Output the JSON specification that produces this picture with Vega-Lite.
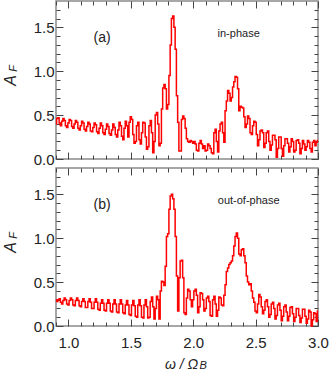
{
  "$schema": "https://vega.github.io/schema/vega-lite/v6.json",
  "padding": {"left": 1, "top": -1, "right": 0, "bottom": 0},
  "spacing": -3,
  "datasets": {
    "a": [
      {"x":0.90,"y":0.40},{"x":0.91,"y":0.46},{"x":0.92,"y":0.47},{"x":0.93,"y":0.41},{"x":0.94,"y":0.38},
      {"x":0.95,"y":0.43},{"x":0.96,"y":0.46},{"x":0.97,"y":0.44},{"x":0.98,"y":0.38},{"x":0.99,"y":0.36},
      {"x":1.00,"y":0.41},{"x":1.01,"y":0.45},{"x":1.02,"y":0.44},{"x":1.03,"y":0.37},{"x":1.04,"y":0.35},
      {"x":1.05,"y":0.40},{"x":1.06,"y":0.44},{"x":1.07,"y":0.42},{"x":1.08,"y":0.35},{"x":1.09,"y":0.33},
      {"x":1.10,"y":0.38},{"x":1.11,"y":0.43},{"x":1.12,"y":0.41},{"x":1.13,"y":0.34},{"x":1.14,"y":0.32},
      {"x":1.15,"y":0.37},{"x":1.16,"y":0.42},{"x":1.17,"y":0.40},{"x":1.18,"y":0.32},{"x":1.19,"y":0.31},
      {"x":1.20,"y":0.36},{"x":1.21,"y":0.41},{"x":1.22,"y":0.39},{"x":1.23,"y":0.31},{"x":1.24,"y":0.29},
      {"x":1.25,"y":0.35},{"x":1.26,"y":0.41},{"x":1.27,"y":0.38},{"x":1.28,"y":0.30},{"x":1.29,"y":0.28},
      {"x":1.30,"y":0.34},{"x":1.31,"y":0.40},{"x":1.32,"y":0.37},{"x":1.33,"y":0.29},{"x":1.34,"y":0.27},
      {"x":1.35,"y":0.33},{"x":1.36,"y":0.40},{"x":1.37,"y":0.36},{"x":1.38,"y":0.28},{"x":1.39,"y":0.25},
      {"x":1.40,"y":0.33},{"x":1.41,"y":0.42},{"x":1.42,"y":0.38},{"x":1.43,"y":0.26},{"x":1.44,"y":0.22},
      {"x":1.45,"y":0.35},{"x":1.46,"y":0.43},{"x":1.47,"y":0.38},{"x":1.48,"y":0.25},{"x":1.49,"y":0.42},
      {"x":1.50,"y":0.48},{"x":1.51,"y":0.45},{"x":1.52,"y":0.28},{"x":1.53,"y":0.18},{"x":1.54,"y":0.20},
      {"x":1.55,"y":0.38},{"x":1.56,"y":0.42},{"x":1.57,"y":0.22},{"x":1.58,"y":0.17},{"x":1.59,"y":0.30},
      {"x":1.60,"y":0.42},{"x":1.61,"y":0.41},{"x":1.62,"y":0.25},{"x":1.63,"y":0.11},{"x":1.64,"y":0.14},
      {"x":1.65,"y":0.38},{"x":1.66,"y":0.44},{"x":1.67,"y":0.30},{"x":1.68,"y":0.07},{"x":1.69,"y":0.20},
      {"x":1.70,"y":0.50},{"x":1.71,"y":0.53},{"x":1.72,"y":0.40},{"x":1.73,"y":0.15},{"x":1.74,"y":0.18},
      {"x":1.75,"y":0.57},{"x":1.76,"y":0.81},{"x":1.77,"y":0.85},{"x":1.78,"y":0.80},{"x":1.79,"y":0.57},
      {"x":1.80,"y":0.62},{"x":1.81,"y":0.95},{"x":1.82,"y":1.30},{"x":1.83,"y":1.60},{"x":1.84,"y":1.63},
      {"x":1.85,"y":1.50},{"x":1.86,"y":1.25},{"x":1.87,"y":0.72},{"x":1.88,"y":0.42},{"x":1.89,"y":0.09},
      {"x":1.90,"y":0.09},{"x":1.91,"y":0.45},{"x":1.92,"y":0.49},{"x":1.93,"y":0.46},{"x":1.94,"y":0.35},
      {"x":1.95,"y":0.23},{"x":1.96,"y":0.20},{"x":1.97,"y":0.19},{"x":1.98,"y":0.21},{"x":1.99,"y":0.20},
      {"x":2.00,"y":0.18},{"x":2.01,"y":0.20},{"x":2.02,"y":0.17},{"x":2.03,"y":0.10},{"x":2.04,"y":0.09},
      {"x":2.05,"y":0.18},{"x":2.06,"y":0.21},{"x":2.07,"y":0.17},{"x":2.08,"y":0.12},{"x":2.09,"y":0.15},
      {"x":2.10,"y":0.09},{"x":2.11,"y":0.10},{"x":2.12,"y":0.17},{"x":2.13,"y":0.15},{"x":2.14,"y":0.12},
      {"x":2.15,"y":0.07},{"x":2.16,"y":0.06},{"x":2.17,"y":0.30},{"x":2.18,"y":0.34},{"x":2.19,"y":0.20},
      {"x":2.20,"y":0.08},{"x":2.21,"y":0.32},{"x":2.22,"y":0.40},{"x":2.23,"y":0.42},{"x":2.24,"y":0.30},
      {"x":2.25,"y":0.19},{"x":2.26,"y":0.55},{"x":2.27,"y":0.66},{"x":2.28,"y":0.78},{"x":2.29,"y":0.75},
      {"x":2.30,"y":0.66},{"x":2.31,"y":0.70},{"x":2.32,"y":0.82},{"x":2.33,"y":0.88},{"x":2.34,"y":0.94},
      {"x":2.35,"y":0.93},{"x":2.36,"y":0.80},{"x":2.37,"y":0.55},{"x":2.38,"y":0.60},{"x":2.39,"y":0.59},
      {"x":2.40,"y":0.58},{"x":2.41,"y":0.48},{"x":2.42,"y":0.36},{"x":2.43,"y":0.40},{"x":2.44,"y":0.49},
      {"x":2.45,"y":0.46},{"x":2.46,"y":0.30},{"x":2.47,"y":0.28},{"x":2.48,"y":0.38},{"x":2.49,"y":0.43},
      {"x":2.50,"y":0.42},{"x":2.51,"y":0.28},{"x":2.52,"y":0.15},{"x":2.53,"y":0.22},{"x":2.54,"y":0.32},
      {"x":2.55,"y":0.33},{"x":2.56,"y":0.30},{"x":2.57,"y":0.13},{"x":2.58,"y":0.18},{"x":2.59,"y":0.30},
      {"x":2.60,"y":0.32},{"x":2.61,"y":0.20},{"x":2.62,"y":0.10},{"x":2.63,"y":0.16},{"x":2.64,"y":0.27},
      {"x":2.65,"y":0.27},{"x":2.66,"y":0.22},{"x":2.67,"y":0.02},{"x":2.68,"y":0.12},{"x":2.69,"y":0.25},
      {"x":2.70,"y":0.25},{"x":2.71,"y":0.12},{"x":2.72,"y":0.03},{"x":2.73,"y":0.15},{"x":2.74,"y":0.23},
      {"x":2.75,"y":0.23},{"x":2.76,"y":0.18},{"x":2.77,"y":0.08},{"x":2.78,"y":0.14},{"x":2.79,"y":0.23},
      {"x":2.80,"y":0.20},{"x":2.81,"y":0.08},{"x":2.82,"y":0.10},{"x":2.83,"y":0.21},{"x":2.84,"y":0.22},
      {"x":2.85,"y":0.18},{"x":2.86,"y":0.06},{"x":2.87,"y":0.12},{"x":2.88,"y":0.21},{"x":2.89,"y":0.17},
      {"x":2.90,"y":0.10},{"x":2.91,"y":0.14},{"x":2.92,"y":0.21},{"x":2.93,"y":0.19},{"x":2.94,"y":0.12},
      {"x":2.95,"y":0.08},{"x":2.96,"y":0.19},{"x":2.97,"y":0.21},{"x":2.98,"y":0.15},{"x":2.99,"y":0.19},
      {"x":3.00,"y":0.21}
    ],
    "b": [
      {"x":0.90,"y":0.30},{"x":0.91,"y":0.28},{"x":0.92,"y":0.30},{"x":0.93,"y":0.31},{"x":0.94,"y":0.27},
      {"x":0.95,"y":0.25},{"x":0.96,"y":0.29},{"x":0.97,"y":0.32},{"x":0.98,"y":0.30},{"x":0.99,"y":0.25},
      {"x":1.00,"y":0.24},{"x":1.01,"y":0.29},{"x":1.02,"y":0.32},{"x":1.03,"y":0.30},{"x":1.04,"y":0.24},
      {"x":1.05,"y":0.23},{"x":1.06,"y":0.29},{"x":1.07,"y":0.32},{"x":1.08,"y":0.29},{"x":1.09,"y":0.23},
      {"x":1.10,"y":0.22},{"x":1.11,"y":0.28},{"x":1.12,"y":0.31},{"x":1.13,"y":0.28},{"x":1.14,"y":0.21},
      {"x":1.15,"y":0.21},{"x":1.16,"y":0.28},{"x":1.17,"y":0.31},{"x":1.18,"y":0.27},{"x":1.19,"y":0.20},
      {"x":1.20,"y":0.20},{"x":1.21,"y":0.27},{"x":1.22,"y":0.31},{"x":1.23,"y":0.27},{"x":1.24,"y":0.19},
      {"x":1.25,"y":0.18},{"x":1.26,"y":0.26},{"x":1.27,"y":0.30},{"x":1.28,"y":0.26},{"x":1.29,"y":0.18},
      {"x":1.30,"y":0.17},{"x":1.31,"y":0.26},{"x":1.32,"y":0.30},{"x":1.33,"y":0.26},{"x":1.34,"y":0.17},
      {"x":1.35,"y":0.16},{"x":1.36,"y":0.25},{"x":1.37,"y":0.30},{"x":1.38,"y":0.25},{"x":1.39,"y":0.16},
      {"x":1.40,"y":0.15},{"x":1.41,"y":0.25},{"x":1.42,"y":0.30},{"x":1.43,"y":0.25},{"x":1.44,"y":0.15},
      {"x":1.45,"y":0.14},{"x":1.46,"y":0.24},{"x":1.47,"y":0.29},{"x":1.48,"y":0.24},{"x":1.49,"y":0.13},
      {"x":1.50,"y":0.12},{"x":1.51,"y":0.24},{"x":1.52,"y":0.29},{"x":1.53,"y":0.23},{"x":1.54,"y":0.11},
      {"x":1.55,"y":0.10},{"x":1.56,"y":0.24},{"x":1.57,"y":0.30},{"x":1.58,"y":0.23},{"x":1.59,"y":0.10},
      {"x":1.60,"y":0.09},{"x":1.61,"y":0.24},{"x":1.62,"y":0.30},{"x":1.63,"y":0.22},{"x":1.64,"y":0.09},
      {"x":1.65,"y":0.10},{"x":1.66,"y":0.28},{"x":1.67,"y":0.33},{"x":1.68,"y":0.22},{"x":1.69,"y":0.08},
      {"x":1.70,"y":0.20},{"x":1.71,"y":0.34},{"x":1.72,"y":0.30},{"x":1.73,"y":0.08},{"x":1.74,"y":0.40},
      {"x":1.75,"y":0.51},{"x":1.76,"y":0.50},{"x":1.77,"y":0.46},{"x":1.78,"y":0.68},{"x":1.79,"y":1.02},
      {"x":1.80,"y":1.05},{"x":1.81,"y":1.33},{"x":1.82,"y":1.48},{"x":1.83,"y":1.50},{"x":1.84,"y":1.45},
      {"x":1.85,"y":1.33},{"x":1.86,"y":1.02},{"x":1.87,"y":0.57},{"x":1.88,"y":0.17},{"x":1.89,"y":0.55},
      {"x":1.90,"y":0.74},{"x":1.91,"y":0.75},{"x":1.92,"y":0.55},{"x":1.93,"y":0.15},{"x":1.94,"y":0.13},
      {"x":1.95,"y":0.32},{"x":1.96,"y":0.42},{"x":1.97,"y":0.40},{"x":1.98,"y":0.30},{"x":1.99,"y":0.22},
      {"x":2.00,"y":0.30},{"x":2.01,"y":0.40},{"x":2.02,"y":0.42},{"x":2.03,"y":0.35},{"x":2.04,"y":0.15},
      {"x":2.05,"y":0.22},{"x":2.06,"y":0.38},{"x":2.07,"y":0.37},{"x":2.08,"y":0.30},{"x":2.09,"y":0.17},
      {"x":2.10,"y":0.20},{"x":2.11,"y":0.32},{"x":2.12,"y":0.34},{"x":2.13,"y":0.28},{"x":2.14,"y":0.12},
      {"x":2.15,"y":0.11},{"x":2.16,"y":0.30},{"x":2.17,"y":0.34},{"x":2.18,"y":0.25},{"x":2.19,"y":0.11},
      {"x":2.20,"y":0.18},{"x":2.21,"y":0.33},{"x":2.22,"y":0.32},{"x":2.23,"y":0.24},{"x":2.24,"y":0.23},
      {"x":2.25,"y":0.35},{"x":2.26,"y":0.47},{"x":2.27,"y":0.62},{"x":2.28,"y":0.66},{"x":2.29,"y":0.70},
      {"x":2.30,"y":0.72},{"x":2.31,"y":0.74},{"x":2.32,"y":0.80},{"x":2.33,"y":0.91},{"x":2.34,"y":1.02},
      {"x":2.35,"y":1.06},{"x":2.36,"y":1.00},{"x":2.37,"y":0.82},{"x":2.38,"y":0.80},{"x":2.39,"y":0.87},
      {"x":2.40,"y":0.88},{"x":2.41,"y":0.80},{"x":2.42,"y":0.72},{"x":2.43,"y":0.57},{"x":2.44,"y":0.50},
      {"x":2.45,"y":0.47},{"x":2.46,"y":0.48},{"x":2.47,"y":0.40},{"x":2.48,"y":0.32},{"x":2.49,"y":0.27},
      {"x":2.50,"y":0.17},{"x":2.51,"y":0.15},{"x":2.52,"y":0.25},{"x":2.53,"y":0.36},{"x":2.54,"y":0.33},
      {"x":2.55,"y":0.22},{"x":2.56,"y":0.14},{"x":2.57,"y":0.18},{"x":2.58,"y":0.28},{"x":2.59,"y":0.30},
      {"x":2.60,"y":0.22},{"x":2.61,"y":0.10},{"x":2.62,"y":0.13},{"x":2.63,"y":0.25},{"x":2.64,"y":0.27},
      {"x":2.65,"y":0.20},{"x":2.66,"y":0.08},{"x":2.67,"y":0.12},{"x":2.68,"y":0.24},{"x":2.69,"y":0.26},
      {"x":2.70,"y":0.18},{"x":2.71,"y":0.06},{"x":2.72,"y":0.11},{"x":2.73,"y":0.22},{"x":2.74,"y":0.24},
      {"x":2.75,"y":0.16},{"x":2.76,"y":0.06},{"x":2.77,"y":0.11},{"x":2.78,"y":0.21},{"x":2.79,"y":0.22},
      {"x":2.80,"y":0.14},{"x":2.81,"y":0.05},{"x":2.82,"y":0.10},{"x":2.83,"y":0.20},{"x":2.84,"y":0.20},
      {"x":2.85,"y":0.12},{"x":2.86,"y":0.04},{"x":2.87,"y":0.09},{"x":2.88,"y":0.19},{"x":2.89,"y":0.19},
      {"x":2.90,"y":0.11},{"x":2.91,"y":0.03},{"x":2.92,"y":0.08},{"x":2.93,"y":0.18},{"x":2.94,"y":0.16},
      {"x":2.95,"y":0.00},{"x":2.96,"y":0.07},{"x":2.97,"y":0.15},{"x":2.98,"y":0.14},{"x":2.99,"y":0.05},
      {"x":3.00,"y":0.17}
    ],
    "tag_a": [{"x":1.27,"y":1.375,"label":"(a)"}],
    "desc_a": [{"x":2.364,"y":1.42,"label":"in-phase"}],
    "tag_b": [{"x":1.27,"y":1.375,"label":"(b)"}],
    "desc_b": [{"x":2.444,"y":1.42,"label":"out-of-phase"}],
    "sub_b": [{"x":2.08,"y":-0.46,"label":"B"}]
  },
  "config": {
    "view": {"stroke": "#8a8a8a", "strokeWidth": 1.5},
    "axis": {
      "domain": false, "grid": false,
      "labelFont": "Liberation Sans", "labelFontSize": 15, "labelColor": "#222222",
      "tickColor": "#444444", "tickWidth": 1,
      "titleFont": "Liberation Sans", "titleFontWeight": "normal", "titleColor": "#222222"
    },
    "text": {"font": "Liberation Sans", "color": "#222222"}
  },
  "vconcat": [
    {
      "width": 262, "height": 158,
      "resolve": {"axis": {"x": "independent", "y": "independent"}},
      "layer": [
        {
          "data": {"name": "a"},
          "mark": {"type": "line", "interpolate": "step", "color": "#ff0000", "strokeWidth": 1.5},
          "encoding": {
            "x": {"field": "x", "type": "quantitative", "scale": {"domain": [0.9, 3.0], "nice": false, "zero": false},
              "axis": {"orient": "bottom", "values": [0.9,1.0,1.1,1.2,1.3,1.4,1.5,1.6,1.7,1.8,1.9,2.0,2.1,2.2,2.3,2.4,2.5,2.6,2.7,2.8,2.9,3.0],
                "labels": false, "title": null,
                "tickSize": {"condition": {"test": "abs(datum.value*2 - round(datum.value*2)) < 0.01", "value": -7}, "value": -4}}},
            "y": {"field": "y", "type": "quantitative", "scale": {"domain": [0, 1.8], "nice": false},
              "axis": {"orient": "left", "values": [0,0.1,0.2,0.3,0.4,0.5,0.6,0.7,0.8,0.9,1.0,1.1,1.2,1.3,1.4,1.5,1.6,1.7],
                "labelExpr": "abs(datum.value*2 - round(datum.value*2)) < 0.01 ? format(datum.value, '.1f') : ''",
                "labelOverlap": false, "labelPadding": 9, "labelBaseline": "middle",
                "title": "A", "titleFontStyle": "italic", "titleFontSize": 16,
                "titleAngle": 270, "titleX": -46, "titleY": 79, "titleAlign": "center", "titleBaseline": "middle",
                "tickSize": {"condition": {"test": "abs(datum.value*2 - round(datum.value*2)) < 0.01", "value": -7}, "value": -4}}}
          }
        },
        {
          "data": {"name": "a"},
          "mark": {"type": "point", "opacity": 0},
          "encoding": {
            "x": {"field": "x", "type": "quantitative", "scale": {"domain": [0.9, 3.0], "nice": false, "zero": false},
              "axis": {"orient": "top", "values": [0.9,1.0,1.1,1.2,1.3,1.4,1.5,1.6,1.7,1.8,1.9,2.0,2.1,2.2,2.3,2.4,2.5,2.6,2.7,2.8,2.9,3.0],
                "labels": false, "title": null,
                "tickSize": {"condition": {"test": "abs(datum.value*2 - round(datum.value*2)) < 0.01", "value": -7}, "value": -4}}},
            "y": {"field": "y", "type": "quantitative", "scale": {"domain": [0, 1.8], "nice": false},
              "axis": {"orient": "right", "values": [0,0.1,0.2,0.3,0.4,0.5,0.6,0.7,0.8,0.9,1.0,1.1,1.2,1.3,1.4,1.5,1.6,1.7],
                "labels": false,
                "title": "F", "titleFontStyle": "italic", "titleFontSize": 11, "titleAngle": 270,
                "titleX": -305, "titleY": 67, "titleBaseline": "middle", "titleAlign": "center",
                "tickSize": {"condition": {"test": "abs(datum.value*2 - round(datum.value*2)) < 0.01", "value": -7}, "value": -4}}}
          }
        },
        {
          "data": {"name": "tag_a"},
          "mark": {"type": "text", "fontSize": 14},
          "encoding": {
            "x": {"field": "x", "type": "quantitative", "scale": {"domain": [0.9, 3.0], "nice": false, "zero": false}, "axis": null},
            "y": {"field": "y", "type": "quantitative", "scale": {"domain": [0, 1.8], "nice": false}, "axis": null},
            "text": {"field": "label"}
          }
        },
        {
          "data": {"name": "desc_a"},
          "mark": {"type": "text", "fontSize": 11},
          "encoding": {
            "x": {"field": "x", "type": "quantitative", "scale": {"domain": [0.9, 3.0], "nice": false, "zero": false}, "axis": null},
            "y": {"field": "y", "type": "quantitative", "scale": {"domain": [0, 1.8], "nice": false}, "axis": null},
            "text": {"field": "label"}
          }
        }
      ]
    },
    {
      "width": 262, "height": 158,
      "resolve": {"axis": {"x": "independent", "y": "independent"}},
      "layer": [
        {
          "data": {"name": "b"},
          "mark": {"type": "line", "interpolate": "step", "color": "#ff0000", "strokeWidth": 1.5},
          "encoding": {
            "x": {"field": "x", "type": "quantitative", "scale": {"domain": [0.9, 3.0], "nice": false, "zero": false},
              "axis": {"orient": "bottom", "values": [0.9,1.0,1.1,1.2,1.3,1.4,1.5,1.6,1.7,1.8,1.9,2.0,2.1,2.2,2.3,2.4,2.5,2.6,2.7,2.8,2.9,3.0],
                "labelExpr": "abs(datum.value*2 - round(datum.value*2)) < 0.01 ? format(datum.value, '.1f') : ''",
                "labelOverlap": false, "labelPadding": 16, "labelFlush": false,
                "title": "ω / Ω", "titleFontStyle": "italic", "titleFontSize": 14, "titlePadding": 4, "titleX": 125,
                "tickSize": {"condition": {"test": "abs(datum.value*2 - round(datum.value*2)) < 0.01", "value": -7}, "value": -4}}},
            "y": {"field": "y", "type": "quantitative", "scale": {"domain": [0, 1.8], "nice": false},
              "axis": {"orient": "left", "values": [0,0.1,0.2,0.3,0.4,0.5,0.6,0.7,0.8,0.9,1.0,1.1,1.2,1.3,1.4,1.5,1.6,1.7],
                "labelExpr": "abs(datum.value*2 - round(datum.value*2)) < 0.01 ? format(datum.value, '.1f') : ''",
                "labelOverlap": false, "labelPadding": 9, "labelBaseline": "middle",
                "title": "A", "titleFontStyle": "italic", "titleFontSize": 16,
                "titleAngle": 270, "titleX": -46, "titleY": 79, "titleAlign": "center", "titleBaseline": "middle",
                "tickSize": {"condition": {"test": "abs(datum.value*2 - round(datum.value*2)) < 0.01", "value": -7}, "value": -4}}}
          }
        },
        {
          "data": {"name": "b"},
          "mark": {"type": "point", "opacity": 0},
          "encoding": {
            "x": {"field": "x", "type": "quantitative", "scale": {"domain": [0.9, 3.0], "nice": false, "zero": false},
              "axis": {"orient": "top", "values": [0.9,1.0,1.1,1.2,1.3,1.4,1.5,1.6,1.7,1.8,1.9,2.0,2.1,2.2,2.3,2.4,2.5,2.6,2.7,2.8,2.9,3.0],
                "labels": false, "title": null,
                "tickSize": {"condition": {"test": "abs(datum.value*2 - round(datum.value*2)) < 0.01", "value": -7}, "value": -4}}},
            "y": {"field": "y", "type": "quantitative", "scale": {"domain": [0, 1.8], "nice": false},
              "axis": {"orient": "right", "values": [0,0.1,0.2,0.3,0.4,0.5,0.6,0.7,0.8,0.9,1.0,1.1,1.2,1.3,1.4,1.5,1.6,1.7],
                "labels": false,
                "title": "F", "titleFontStyle": "italic", "titleFontSize": 11, "titleAngle": 270,
                "titleX": -305, "titleY": 67, "titleBaseline": "middle", "titleAlign": "center",
                "tickSize": {"condition": {"test": "abs(datum.value*2 - round(datum.value*2)) < 0.01", "value": -7}, "value": -4}}}
          }
        },
        {
          "data": {"name": "tag_b"},
          "mark": {"type": "text", "fontSize": 14},
          "encoding": {
            "x": {"field": "x", "type": "quantitative", "scale": {"domain": [0.9, 3.0], "nice": false, "zero": false}, "axis": null},
            "y": {"field": "y", "type": "quantitative", "scale": {"domain": [0, 1.8], "nice": false}, "axis": null},
            "text": {"field": "label"}
          }
        },
        {
          "data": {"name": "desc_b"},
          "mark": {"type": "text", "fontSize": 11},
          "encoding": {
            "x": {"field": "x", "type": "quantitative", "scale": {"domain": [0.9, 3.0], "nice": false, "zero": false}, "axis": null},
            "y": {"field": "y", "type": "quantitative", "scale": {"domain": [0, 1.8], "nice": false}, "axis": null},
            "text": {"field": "label"}
          }
        },
        {
          "data": {"name": "sub_b"},
          "mark": {"type": "text", "fontSize": 11, "fontStyle": "italic"},
          "encoding": {
            "x": {"field": "x", "type": "quantitative", "scale": {"domain": [0.9, 3.0], "nice": false, "zero": false}, "axis": null},
            "y": {"field": "y", "type": "quantitative", "scale": {"domain": [0, 1.8], "nice": false}, "axis": null},
            "text": {"field": "label"}
          }
        }
      ]
    }
  ]
}
